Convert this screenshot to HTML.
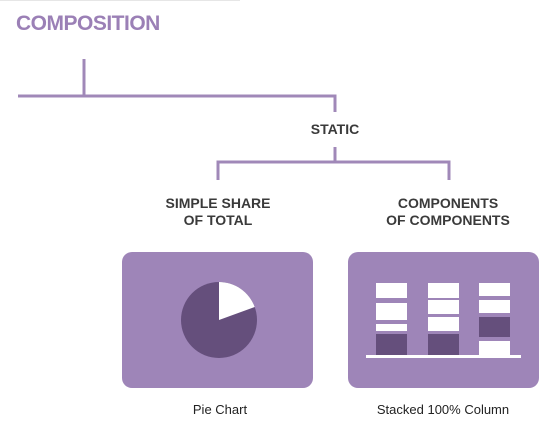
<!DOCTYPE html>
<html><head><style>
body{margin:0;width:553px;height:440px;background:#fff;position:relative;overflow:hidden;font-family:"Liberation Sans",sans-serif}
.t{position:absolute;font-weight:bold;color:#3a3a3a;font-size:14px;text-align:center;line-height:17px}
.l{position:absolute;font-size:13px;color:#222;text-align:center}
</style></head><body>
<div style="position:absolute;left:0;top:0;width:240px;height:1px;background:#e6e6e6"></div>
<div style="position:absolute;left:16px;top:12px;font-size:21px;font-weight:bold;color:#9b80b6;letter-spacing:-0.5px">COMPOSITION</div>
<svg width="553" height="440" style="position:absolute;left:0;top:0">
<g stroke="#a088b8" stroke-width="3" fill="none">
<path d="M84 59V96M18 96H335V112M335 147V162M218 180V162H449V180"/>
</g>
<rect x="122" y="252" width="191" height="136" rx="10" fill="#9e85b8"/>
<rect x="348" y="252" width="191" height="136" rx="10" fill="#9e85b8"/>
<circle cx="219" cy="320" r="38" fill="#654f7c"/>
<path d="M219 320V282A38 38 0 0 1 254.7 307Z" fill="#fff"/>
<g fill="#fff">
<rect x="376" y="283" width="31" height="15"/><rect x="376" y="303" width="31" height="17"/><rect x="376" y="324" width="31" height="7"/>
<rect x="428" y="283" width="31" height="15"/><rect x="428" y="300" width="31" height="14"/><rect x="428" y="317" width="31" height="14"/>
<rect x="479" y="283" width="31" height="13"/><rect x="479" y="300" width="31" height="13"/><rect x="479" y="341" width="31" height="14"/>
<rect x="366" y="355" width="155" height="3"/>
</g>
<g fill="#654f7c">
<rect x="376" y="334" width="31" height="21"/><rect x="428" y="334" width="31" height="21"/><rect x="479" y="317" width="31" height="20"/>
</g>
</svg>
<div class="t" style="left:285px;top:121px;width:100px">STATIC</div>
<div class="t" style="left:138px;top:195px;width:160px">SIMPLE SHARE<br>OF TOTAL</div>
<div class="t" style="left:368px;top:195px;width:160px">COMPONENTS<br>OF COMPONENTS</div>
<div class="l" style="left:140px;top:402px;width:160px">Pie Chart</div>
<div class="l" style="left:363px;top:402px;width:160px">Stacked 100% Column</div>
</body></html>
